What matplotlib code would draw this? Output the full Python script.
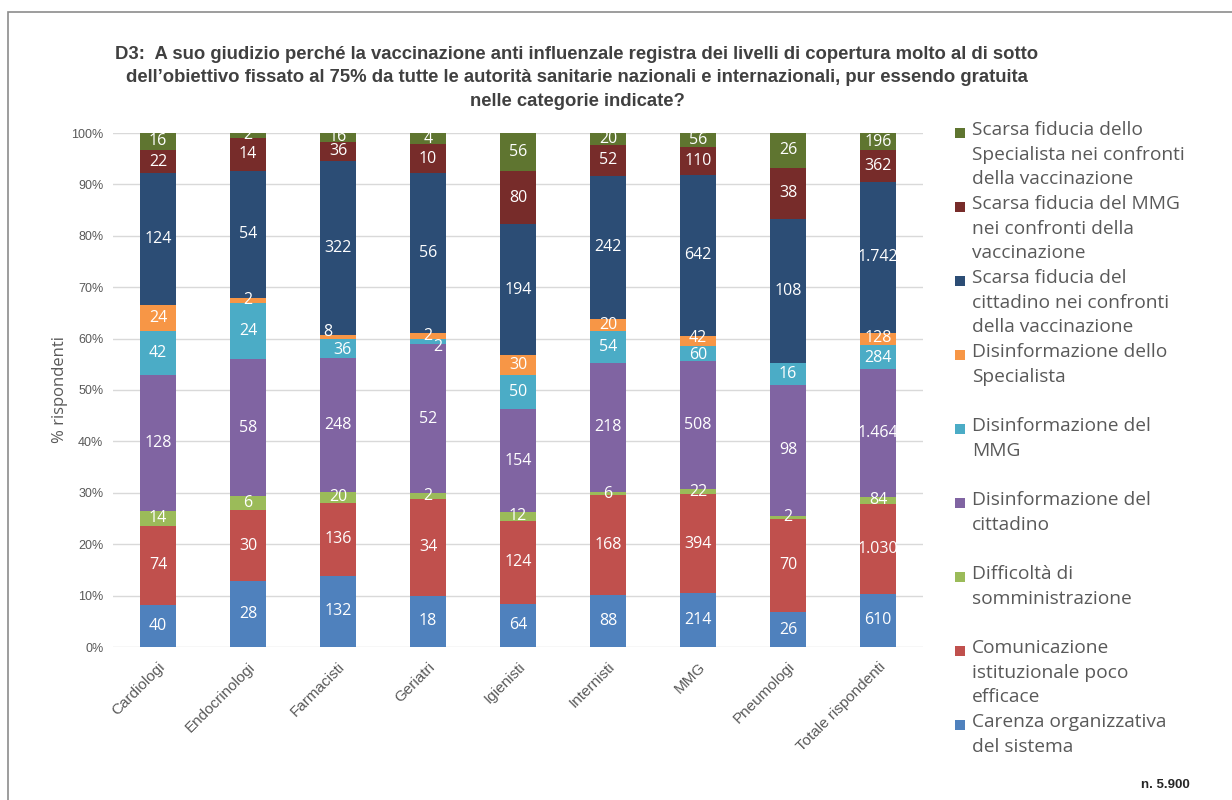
import matplotlib
matplotlib.use("Agg")
import matplotlib.pyplot as plt
from matplotlib.patches import Rectangle
import numpy as np

categories = ["Cardiologi", "Endocrinologi", "Farmacisti", "Geriatri", "Igienisti",
              "Internisti", "MMG", "Pneumologi", "Totale rispondenti"]

series_names = [
    "Carenza organizzativa\ndel sistema",
    "Comunicazione\nistituzionale poco\nefficace",
    "Difficoltà di\nsomministrazione",
    "Disinformazione del\ncittadino",
    "Disinformazione del\nMMG",
    "Disinformazione dello\nSpecialista",
    "Scarsa fiducia del\ncittadino nei confronti\ndella vaccinazione",
    "Scarsa fiducia del MMG\nnei confronti della\nvaccinazione",
    "Scarsa fiducia dello\nSpecialista nei confronti\ndella vaccinazione",
]

carenza = [40, 28, 132, 18, 64, 88, 214, 26, 610]
comunicazione = [74, 30, 136, 34, 124, 168, 394, 70, 1030]
difficolta = [14, 6, 20, 2, 12, 6, 22, 2, 84]
disinf_cittadino = [128, 58, 248, 52, 154, 218, 508, 98, 1464]
disinf_mmg = [42, 24, 36, 2, 50, 54, 60, 16, 284]
disinf_specialista = [24, 2, 8, 2, 30, 20, 42, 0, 128]
fiducia_cittadino = [124, 54, 322, 56, 194, 242, 642, 108, 1742]
fiducia_mmg = [22, 14, 36, 10, 80, 52, 110, 38, 362]
fiducia_specialista = [16, 2, 16, 4, 56, 20, 56, 26, 196]

series_values = [carenza, comunicazione, difficolta, disinf_cittadino, disinf_mmg,
                 disinf_specialista, fiducia_cittadino, fiducia_mmg, fiducia_specialista]

colors = ["#4F81BD", "#C0504D", "#9BBB59", "#8064A2", "#4BACC6",
          "#F79646", "#2C4D75", "#772C2A", "#5F7530"]

title = ("D3:  A suo giudizio perché la vaccinazione anti influenzale registra dei livelli di copertura molto al di sotto\n"
         "dell’obiettivo fissato al 75% da tutte le autorità sanitarie nazionali e internazionali, pur essendo gratuita\n"
         "nelle categorie indicate?")

# small nudges (points) for labels of thin neighbouring segments
label_nudge = {(4, 3): (7, -4), (5, 2): (-7, 3), (4, 2): (3, -1),
               (5, 6): (0, 2), (4, 6): (0, -1), (5, 8): (0, 1), (4, 8): (0, -1)}

W, H = 1232, 800
fig = plt.figure(figsize=(W / 100, H / 100), dpi=100)
fig.patch.set_facecolor("white")

# outer frame of the chart
fig.add_artist(Rectangle((8 / W, -0.01), 1.0, 1 - 12 / H + 0.01, transform=fig.transFigure,
                         fill=False, edgecolor="#8C8C8C", linewidth=1.2))

ax = fig.add_axes([113 / W, 1 - 647 / H, (923 - 113) / W, (647 - 133) / H])

vals = np.array(series_values, dtype=float)
totals = vals.sum(axis=0)
pct = vals / totals * 100
x = np.arange(len(categories))
bottom = np.zeros(len(categories))

def fmt_it(v):
    return f"{int(v):,}".replace(",", ".")

for i, (name, col) in enumerate(zip(series_names, colors)):
    ax.bar(x, pct[i], bottom=bottom, width=0.4, color=col, label=name, zorder=2)
    for j in range(len(categories)):
        v = vals[i, j]
        if v <= 0:
            continue
        dx, dy = label_nudge.get((i, j), (0, 0))
        ax.annotate(fmt_it(v), (x[j], bottom[j] + pct[i, j] / 2), xytext=(dx, dy),
                    textcoords="offset points", ha="center", va="center",
                    color="white", fontsize=11.5, family="Open Sans", zorder=3,
                    annotation_clip=False)
    bottom += pct[i]

ax.set_xlim(-0.5, len(categories) - 0.5)
ax.set_ylim(0, 100)
ax.set_yticks(np.arange(0, 101, 10))
ax.set_yticklabels([f"{v}%" for v in range(0, 101, 10)], family="Liberation Sans",
                   fontsize=9, color="#595959")
ax.set_xticks(x)
ax.set_xticklabels(categories, rotation=45, ha="right", rotation_mode="anchor",
                   family="Liberation Sans", fontsize=11, color="#595959")
ax.tick_params(axis="both", length=0, pad=7)
ax.tick_params(axis="x", pad=9)
ax.grid(axis="y", color="#D9D9D9", linewidth=1, zorder=0)
ax.set_axisbelow(True)
for s in ax.spines.values():
    s.set_visible(False)

ax.set_ylabel("% rispondenti", family="Open Sans", fontsize=12, color="#595959", labelpad=2)

fig.text(577 / W, 1 - 78 / H, title, ha="center", va="center", family="Liberation Sans",
         fontweight="bold", fontsize=13.3, color="#404040", linespacing=1.5)

# legend, listed top to bottom in reverse stacking order
for k, i in enumerate(range(len(series_names) - 1, -1, -1)):
    top = 121 + k * 74
    fig.add_artist(Rectangle((955 / W, 1 - (top + 17) / H), 10 / W, 10 / H,
                             transform=fig.transFigure, facecolor=colors[i], edgecolor="none"))
    fig.text(972 / W, 1 - top / H, series_names[i], ha="left", va="top",
             family="Open Sans", fontsize=13.8, color="#595959", linespacing=1.47)

fig.text(1190 / W, 1 - 785 / H, "n. 5.900", ha="right", va="center",
         family="Liberation Sans", fontweight="bold", fontsize=9.5, color="#262626")

fig.savefig("out.png", dpi=100)
